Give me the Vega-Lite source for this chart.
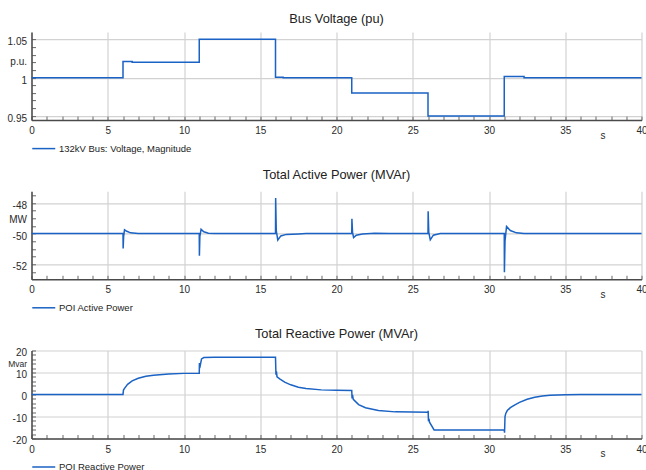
{
  "$schema": "https://vega.github.io/schema/vega-lite/v6.json",
  "padding": {"left": 6.5, "top": 13.1, "right": -0.5, "bottom": 0},
  "spacing": 15.2,
  "resolve": {"scale": {"color": "independent"}, "legend": {"color": "independent"}},
  "config": {
    "font": "Liberation Sans",
    "view": {"stroke": null},
    "title": {"fontSize": 12.8, "fontWeight": "normal", "color": "#222222", "anchor": "middle"},
    "axis": {
      "labelFontSize": 10,
      "labelColor": "#2a2a2a",
      "labelOverlap": false,
      "labelFlush": false,
      "domainColor": "#4a4a4a",
      "domainWidth": 1.5,
      "gridColor": "#d2d2d2",
      "gridWidth": 1.2,
      "tickColor": "#666666",
      "tickSize": -4,
      "tickWidth": 1,
      "titleFontSize": 10,
      "titleFontWeight": "normal",
      "titleColor": "#2a2a2a"
    },
    "axisX": {"labelPadding": 9.7},
    "axisY": {"labelPadding": 9, "labelOffset": 2.5},
    "legend": {
      "orient": "bottom",
      "direction": "horizontal",
      "symbolType": "M-1,0H3",
      "symbolSize": 132.25,
      "symbolStrokeWidth": 1.5,
      "labelOffset": 14.5,
      "labelFontSize": 9.5,
      "labelColor": "#222222",
      "offset": 1,
      "padding": 0
    }
  },
  "vconcat": [
    {
      "width": 610,
      "height": 88,
      "title": {"text": "Bus Voltage (pu)", "offset": 6.0},
      "data": {"values": [
        {"t": 0, "v": 1.0, "series": "132kV Bus: Voltage, Magnitude"},
        {"t": 6, "v": 1.021, "series": "132kV Bus: Voltage, Magnitude"},
        {"t": 6.6, "v": 1.02, "series": "132kV Bus: Voltage, Magnitude"},
        {"t": 11, "v": 1.05, "series": "132kV Bus: Voltage, Magnitude"},
        {"t": 16, "v": 1.0005, "series": "132kV Bus: Voltage, Magnitude"},
        {"t": 16.5, "v": 1.0, "series": "132kV Bus: Voltage, Magnitude"},
        {"t": 21, "v": 0.98, "series": "132kV Bus: Voltage, Magnitude"},
        {"t": 26, "v": 0.95, "series": "132kV Bus: Voltage, Magnitude"},
        {"t": 31, "v": 1.0015, "series": "132kV Bus: Voltage, Magnitude"},
        {"t": 32.3, "v": 1.0, "series": "132kV Bus: Voltage, Magnitude"},
        {"t": 40, "v": 1.0, "series": "132kV Bus: Voltage, Magnitude"}
      ]},
      "mark": {"type": "line", "interpolate": "step-after", "strokeWidth": 1.5},
      "encoding": {
        "x": {"field": "t", "type": "quantitative",
          "scale": {"domain": [0, 40], "nice": false, "zero": false},
          "axis": {
            "values": [0,1,2,3,4,5,6,7,8,9,10,11,12,13,14,15,16,17,18,19,20,21,22,23,24,25,26,27,28,29,30,31,32,33,34,35,36,37,38,39,40],
            "labelExpr": "datum.value % 5 === 0 ? '' + datum.value : ''",
            "gridOpacity": {"condition": {"test": "datum.value % 5 === 0", "value": 1}, "value": 0},
            "title": "s", "titleX": 571, "titleY": 15.5, "titleAlign": "center", "titleBaseline": "middle"
          }},
        "y": {"field": "v", "type": "quantitative",
          "scale": {"domain": [0.9445, 1.0595], "nice": false, "zero": false},
          "axis": {
            "values": [0.95,0.96,0.97,0.98,0.99,1,1.01,1.02,1.03,1.04,1.05],
            "labelExpr": "abs(datum.value*20 - round(datum.value*20)) < 0.001 ? '' + datum.value : ''",
            "gridOpacity": {"condition": {"test": "abs(datum.value*20 - round(datum.value*20)) < 0.001", "value": 1}, "value": 0},
            "title": "p.u.", "titleAngle": 0, "titleX": -5, "titleY": 29.5, "titleAlign": "right", "titleBaseline": "middle"
          }},
        "color": {"field": "series", "type": "nominal", "scale": {"range": ["#1a62c4"]}, "legend": {"title": null}}
      }
    },
    {
      "width": 610,
      "height": 88,
      "title": {"text": "Total Active Power (MVAr)", "offset": 9.4},
      "data": {"values": [
        {"t": 0, "p": -50, "series": "POI Active Power"},
        {"t": 6.0, "p": -50, "series": "POI Active Power"},
        {"t": 6.01, "p": -50.97, "series": "POI Active Power"},
        {"t": 6.04, "p": -50.2, "series": "POI Active Power"},
        {"t": 6.1, "p": -49.75, "series": "POI Active Power"},
        {"t": 6.25, "p": -49.85, "series": "POI Active Power"},
        {"t": 6.5, "p": -49.95, "series": "POI Active Power"},
        {"t": 7, "p": -50, "series": "POI Active Power"},
        {"t": 11.0, "p": -50, "series": "POI Active Power"},
        {"t": 11.01, "p": -51.44, "series": "POI Active Power"},
        {"t": 11.04, "p": -50.2, "series": "POI Active Power"},
        {"t": 11.12, "p": -49.72, "series": "POI Active Power"},
        {"t": 11.3, "p": -49.88, "series": "POI Active Power"},
        {"t": 11.6, "p": -49.97, "series": "POI Active Power"},
        {"t": 12, "p": -50, "series": "POI Active Power"},
        {"t": 16.0, "p": -50, "series": "POI Active Power"},
        {"t": 16.01, "p": -47.68, "series": "POI Active Power"},
        {"t": 16.05, "p": -49.8, "series": "POI Active Power"},
        {"t": 16.15, "p": -50.42, "series": "POI Active Power"},
        {"t": 16.35, "p": -50.15, "series": "POI Active Power"},
        {"t": 16.7, "p": -50.05, "series": "POI Active Power"},
        {"t": 17.5, "p": -50.02, "series": "POI Active Power"},
        {"t": 18, "p": -50, "series": "POI Active Power"},
        {"t": 21.0, "p": -50, "series": "POI Active Power"},
        {"t": 21.01, "p": -49.03, "series": "POI Active Power"},
        {"t": 21.05, "p": -49.9, "series": "POI Active Power"},
        {"t": 21.12, "p": -50.26, "series": "POI Active Power"},
        {"t": 21.3, "p": -50.1, "series": "POI Active Power"},
        {"t": 21.7, "p": -50.02, "series": "POI Active Power"},
        {"t": 22.5, "p": -49.97, "series": "POI Active Power"},
        {"t": 23.5, "p": -50, "series": "POI Active Power"},
        {"t": 26.0, "p": -50, "series": "POI Active Power"},
        {"t": 26.01, "p": -48.54, "series": "POI Active Power"},
        {"t": 26.05, "p": -49.9, "series": "POI Active Power"},
        {"t": 26.15, "p": -50.41, "series": "POI Active Power"},
        {"t": 26.35, "p": -50.1, "series": "POI Active Power"},
        {"t": 26.8, "p": -50, "series": "POI Active Power"},
        {"t": 31.0, "p": -50, "series": "POI Active Power"},
        {"t": 31.01, "p": -52.52, "series": "POI Active Power"},
        {"t": 31.05, "p": -50.5, "series": "POI Active Power"},
        {"t": 31.15, "p": -49.53, "series": "POI Active Power"},
        {"t": 31.4, "p": -49.8, "series": "POI Active Power"},
        {"t": 31.8, "p": -49.95, "series": "POI Active Power"},
        {"t": 32.3, "p": -50, "series": "POI Active Power"},
        {"t": 40, "p": -50, "series": "POI Active Power"}
      ]},
      "mark": {"type": "line", "strokeWidth": 1.5},
      "encoding": {
        "x": {"field": "t", "type": "quantitative",
          "scale": {"domain": [0, 40], "nice": false, "zero": false},
          "axis": {
            "values": [0,1,2,3,4,5,6,7,8,9,10,11,12,13,14,15,16,17,18,19,20,21,22,23,24,25,26,27,28,29,30,31,32,33,34,35,36,37,38,39,40],
            "labelExpr": "datum.value % 5 === 0 ? '' + datum.value : ''",
            "gridOpacity": {"condition": {"test": "datum.value % 5 === 0", "value": 1}, "value": 0},
            "title": "s", "titleX": 571, "titleY": 15.5, "titleAlign": "center", "titleBaseline": "middle"
          }},
        "y": {"field": "p", "type": "quantitative",
          "scale": {"domain": [-52.98, -47.24], "nice": false, "zero": false},
          "axis": {
            "values": [-52.5,-52,-51.5,-51,-50.5,-50,-49.5,-49,-48.5,-48,-47.5],
            "labelExpr": "datum.value % 2 === 0 ? '' + datum.value : ''",
            "gridOpacity": {"condition": {"test": "datum.value % 2 === 0", "value": 1}, "value": 0},
            "title": "MW", "titleAngle": 0, "titleX": -5, "titleY": 28.5, "titleAlign": "right", "titleBaseline": "middle"
          }},
        "color": {"field": "series", "type": "nominal", "scale": {"range": ["#1a62c4"]}, "legend": {"title": null}}
      }
    },
    {
      "width": 610,
      "height": 88,
      "title": {"text": "Total Reactive Power (MVAr)", "offset": 7},
      "data": {"values": [
        {"t": 0, "q": 0, "series": "POI Reactive Power"},
        {"t": 6.0, "q": 0, "series": "POI Reactive Power"},
        {"t": 6.03, "q": 2.0, "series": "POI Reactive Power"},
        {"t": 6.1, "q": 2.8, "series": "POI Reactive Power"},
        {"t": 6.3, "q": 4.6, "series": "POI Reactive Power"},
        {"t": 6.6, "q": 6.2, "series": "POI Reactive Power"},
        {"t": 7.0, "q": 7.4, "series": "POI Reactive Power"},
        {"t": 7.5, "q": 8.3, "series": "POI Reactive Power"},
        {"t": 8.0, "q": 8.8, "series": "POI Reactive Power"},
        {"t": 9.0, "q": 9.35, "series": "POI Reactive Power"},
        {"t": 10.0, "q": 9.6, "series": "POI Reactive Power"},
        {"t": 11.0, "q": 9.7, "series": "POI Reactive Power"},
        {"t": 11.01, "q": 14.3, "series": "POI Reactive Power"},
        {"t": 11.03, "q": 12.0, "series": "POI Reactive Power"},
        {"t": 11.15, "q": 16.2, "series": "POI Reactive Power"},
        {"t": 11.3, "q": 16.8, "series": "POI Reactive Power"},
        {"t": 12.0, "q": 16.9, "series": "POI Reactive Power"},
        {"t": 16.0, "q": 16.9, "series": "POI Reactive Power"},
        {"t": 16.03, "q": 9.0, "series": "POI Reactive Power"},
        {"t": 16.06, "q": 10.5, "series": "POI Reactive Power"},
        {"t": 16.1, "q": 8.0, "series": "POI Reactive Power"},
        {"t": 16.3, "q": 7.0, "series": "POI Reactive Power"},
        {"t": 16.6, "q": 5.6, "series": "POI Reactive Power"},
        {"t": 17.0, "q": 4.4, "series": "POI Reactive Power"},
        {"t": 17.5, "q": 3.3, "series": "POI Reactive Power"},
        {"t": 18.0, "q": 2.7, "series": "POI Reactive Power"},
        {"t": 19.0, "q": 2.1, "series": "POI Reactive Power"},
        {"t": 20.0, "q": 1.9, "series": "POI Reactive Power"},
        {"t": 21.0, "q": 1.8, "series": "POI Reactive Power"},
        {"t": 21.02, "q": -1.8, "series": "POI Reactive Power"},
        {"t": 21.05, "q": -0.2, "series": "POI Reactive Power"},
        {"t": 21.1, "q": -2.2, "series": "POI Reactive Power"},
        {"t": 21.45, "q": -4.6, "series": "POI Reactive Power"},
        {"t": 21.9, "q": -6.0, "series": "POI Reactive Power"},
        {"t": 22.75, "q": -7.3, "series": "POI Reactive Power"},
        {"t": 23.85, "q": -7.9, "series": "POI Reactive Power"},
        {"t": 26.0, "q": -8.1, "series": "POI Reactive Power"},
        {"t": 26.01, "q": -7.4, "series": "POI Reactive Power"},
        {"t": 26.03, "q": -12.2, "series": "POI Reactive Power"},
        {"t": 26.06, "q": -11.0, "series": "POI Reactive Power"},
        {"t": 26.1, "q": -12.6, "series": "POI Reactive Power"},
        {"t": 26.4, "q": -16.1, "series": "POI Reactive Power"},
        {"t": 31.0, "q": -16.1, "series": "POI Reactive Power"},
        {"t": 31.02, "q": -17.4, "series": "POI Reactive Power"},
        {"t": 31.05, "q": -10.0, "series": "POI Reactive Power"},
        {"t": 31.1, "q": -8.6, "series": "POI Reactive Power"},
        {"t": 31.2, "q": -7.3, "series": "POI Reactive Power"},
        {"t": 31.4, "q": -6.0, "series": "POI Reactive Power"},
        {"t": 31.7, "q": -4.7, "series": "POI Reactive Power"},
        {"t": 32.0, "q": -3.6, "series": "POI Reactive Power"},
        {"t": 32.5, "q": -2.2, "series": "POI Reactive Power"},
        {"t": 33.0, "q": -1.3, "series": "POI Reactive Power"},
        {"t": 33.5, "q": -0.7, "series": "POI Reactive Power"},
        {"t": 34.0, "q": -0.35, "series": "POI Reactive Power"},
        {"t": 35.0, "q": -0.1, "series": "POI Reactive Power"},
        {"t": 36.0, "q": 0, "series": "POI Reactive Power"},
        {"t": 40.0, "q": 0, "series": "POI Reactive Power"}
      ]},
      "mark": {"type": "line", "strokeWidth": 1.5},
      "encoding": {
        "x": {"field": "t", "type": "quantitative",
          "scale": {"domain": [0, 40], "nice": false, "zero": false},
          "axis": {
            "values": [0,1,2,3,4,5,6,7,8,9,10,11,12,13,14,15,16,17,18,19,20,21,22,23,24,25,26,27,28,29,30,31,32,33,34,35,36,37,38,39,40],
            "labelExpr": "datum.value % 5 === 0 ? '' + datum.value : ''",
            "gridOpacity": {"condition": {"test": "datum.value % 5 === 0", "value": 1}, "value": 0},
            "title": "s", "titleX": 571, "titleY": 15.5, "titleAlign": "center", "titleBaseline": "middle"
          }},
        "y": {"field": "q", "type": "quantitative",
          "scale": {"domain": [-20, 20], "nice": false, "zero": false},
          "axis": {
            "values": [-20,-18,-16,-14,-12,-10,-8,-6,-4,-2,0,2,4,6,8,10,12,14,16,18,20],
            "labelExpr": "datum.value % 10 === 0 ? '' + datum.value : ''",
            "gridOpacity": {"condition": {"test": "datum.value % 10 === 0", "value": 1}, "value": 0},
            "title": "Mvar", "titleFontSize": 8.5, "titleAngle": 0, "titleX": -5, "titleY": 13.2, "titleAlign": "right", "titleBaseline": "middle"
          }},
        "color": {"field": "series", "type": "nominal", "scale": {"range": ["#1a62c4"]}, "legend": {"title": null}}
      }
    }
  ]
}
